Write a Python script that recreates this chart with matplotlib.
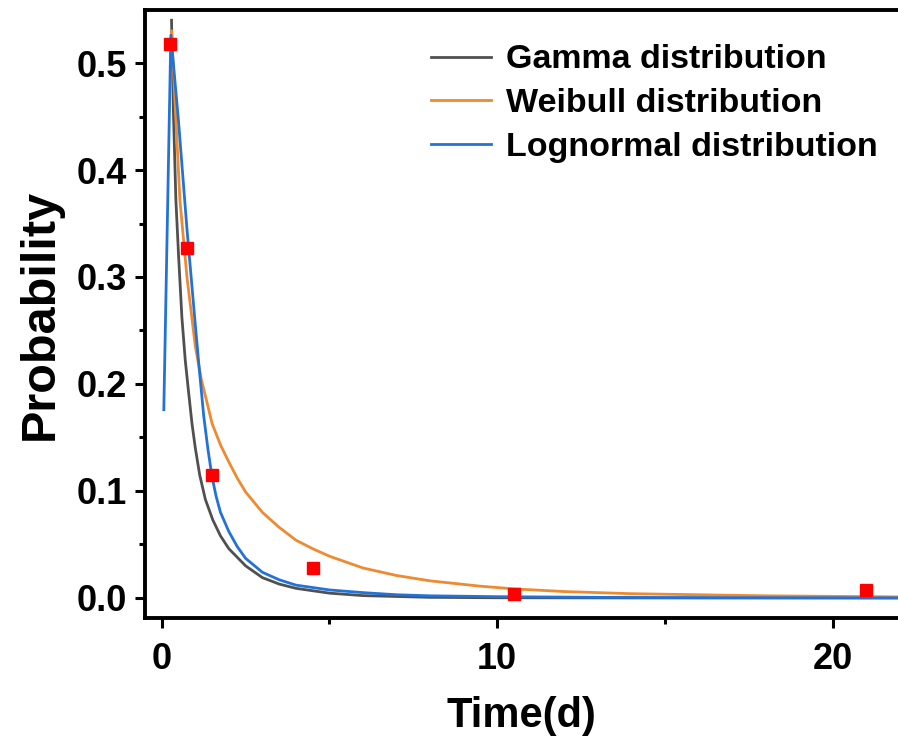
import matplotlib
matplotlib.use('Agg')
import matplotlib.pyplot as plt
from matplotlib.ticker import MultipleLocator

# measured points
time_d = [0.25, 0.75, 1.5, 4.5, 10.5, 21.0]
prob = [0.518, 0.327, 0.115, 0.028, 0.004, 0.007]

# fitted curves
gamma_t = [0.29, 0.35, 0.42, 0.5, 0.6, 0.7, 0.8, 0.9, 1.0, 1.13, 1.3, 1.52, 1.75, 2.0, 2.5,
           3.0, 3.5, 4.0, 5.0, 6.0, 8.0, 10.0, 14.0, 22.0]
gamma_p = [0.54, 0.45, 0.372, 0.32, 0.262, 0.222, 0.192, 0.163, 0.14, 0.115, 0.092, 0.073,
           0.058, 0.046, 0.03, 0.019, 0.013, 0.009, 0.0045, 0.0022, 0.0006, 0.0002, 0.00005, 0.0]

weibull_t = [0.29, 0.4, 0.54, 0.75, 1.0, 1.18, 1.33, 1.5, 1.75, 2.0, 2.25, 2.5, 3.0, 3.5, 4.0,
             4.5, 5.0, 6.0, 7.0, 8.0, 9.5, 10.5, 12.0, 14.0, 16.0, 18.0, 20.0, 22.0]
weibull_p = [0.53, 0.46, 0.372, 0.30, 0.235, 0.204, 0.185, 0.163, 0.143, 0.127, 0.112, 0.099,
             0.08, 0.066, 0.054, 0.046, 0.039, 0.028, 0.021, 0.016, 0.011, 0.0085, 0.006,
             0.004, 0.003, 0.002, 0.0015, 0.001]

lognorm_t = [0.06, 0.27, 0.5, 0.75, 1.0, 1.1, 1.25, 1.38, 1.5, 1.62, 1.75, 2.0, 2.25, 2.5, 3.0,
             3.5, 4.0, 5.0, 6.0, 7.0, 8.0, 10.0, 13.0, 16.0, 22.0]
lognorm_p = [0.176, 0.526, 0.445, 0.345, 0.255, 0.22, 0.17, 0.138, 0.113, 0.095, 0.08, 0.062,
             0.048, 0.037, 0.024, 0.017, 0.012, 0.0075, 0.005, 0.003, 0.002, 0.0012, 0.0006,
             0.0003, 0.0001]

plt.rcParams['font.family'] = ['Liberation Sans', 'DejaVu Sans']
plt.rcParams['font.weight'] = 'bold'

fig = plt.figure(figsize=(8.98, 7.45), dpi=100)
ax = fig.add_axes([0.1615, 0.1705, 0.8385, 0.816])

ax.plot(gamma_t, gamma_p, color='#505050', lw=2.0, label='Gamma distribution')
ax.plot(weibull_t, weibull_p, color='#EE8A30', lw=2.0, label='Weibull distribution')
ax.plot(lognorm_t, lognorm_p, color='#2372D8', lw=2.0, label='Lognormal distribution')
ax.plot(time_d, prob, 's', color='#FF0000', markersize=8.5, zorder=5)

ax.set_xlim(-0.5, 21.95)
ax.set_ylim(-0.0187, 0.5495)
ax.xaxis.set_major_locator(MultipleLocator(10))
ax.xaxis.set_minor_locator(MultipleLocator(5))
ax.yaxis.set_major_locator(MultipleLocator(0.1))
ax.yaxis.set_minor_locator(MultipleLocator(0.05))
ax.yaxis.set_major_formatter(matplotlib.ticker.FormatStrFormatter('%.1f'))

for s in ['left', 'bottom', 'top']:
    ax.spines[s].set_linewidth(2.8)
ax.spines['right'].set_visible(False)
ax.tick_params(which='major', length=7, width=2.2, labelsize=26, pad=6)
ax.tick_params(axis='x', which='major', pad=10)
ax.tick_params(which='minor', length=4, width=2.2)
ax.tick_params(top=False, right=False)

ax.set_xlabel('Time(d)', fontsize=30, fontweight='bold', labelpad=14)
ax.set_ylabel('Probability', fontsize=35, fontweight='bold', labelpad=10)

ax.legend(loc='upper right', frameon=False, fontsize=24.5, handlelength=1.75,
          handletextpad=0.45, labelspacing=0.38, borderaxespad=0.2,
          bbox_to_anchor=(1.0, 0.977))

fig.savefig('out.png', dpi=100)
